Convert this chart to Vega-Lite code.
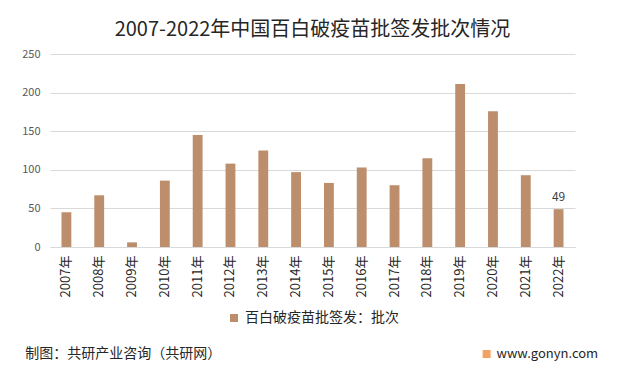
{
  "$schema": "https://vega.github.io/schema/vega-lite/v6.json",
  "background": "white",
  "padding": {"top": 20, "left": 21, "right": 10, "bottom": 5},
  "config": {
    "font": "Noto Sans CJK SC",
    "view": {"stroke": null},
    "title": {"font": "Noto Sans CJK SC", "fontWeight": "normal"},
    "axis": {"labelFont": "Noto Sans CJK SC"},
    "legend": {"labelFont": "Noto Sans CJK SC", "layout": {"bottom": {"anchor": "middle"}}}
  },
  "datasets": {
    "vaccine": [
      {"year": "2007年", "count": 45},
      {"year": "2008年", "count": 67},
      {"year": "2009年", "count": 6},
      {"year": "2010年", "count": 86},
      {"year": "2011年", "count": 145},
      {"year": "2012年", "count": 108},
      {"year": "2013年", "count": 125},
      {"year": "2014年", "count": 97},
      {"year": "2015年", "count": 83},
      {"year": "2016年", "count": 103},
      {"year": "2017年", "count": 80},
      {"year": "2018年", "count": 115},
      {"year": "2019年", "count": 211},
      {"year": "2020年", "count": 176},
      {"year": "2021年", "count": 93},
      {"year": "2022年", "count": 49}
    ],
    "footer": [
      {"site": "www.gonyn.com", "source": "制图：共研产业咨询（共研网）"}
    ]
  },
  "vconcat": [
    {
      "title": {
        "text": "2007-2022年中国百白破疫苗批签发批次情况",
        "fontSize": 20,
        "color": "#262626",
        "frame": "group",
        "anchor": "middle",
        "offset": 8
      },
      "width": 525,
      "height": 193,
      "data": {"name": "vaccine"},
      "encoding": {
        "x": {
          "field": "year",
          "type": "nominal",
          "sort": null,
          "scale": {"paddingInner": 0.7, "paddingOuter": 0.35},
          "axis": {
            "title": null,
            "labelAngle": -90,
            "labelFontSize": 13,
            "labelColor": "#262626",
            "labelPadding": 8,
            "ticks": false,
            "domainColor": "#d9d9d9"
          }
        },
        "y": {
          "field": "count",
          "type": "quantitative",
          "scale": {"domain": [0, 250]},
          "axis": {
            "title": null,
            "values": [0, 50, 100, 150, 200, 250],
            "domain": false,
            "ticks": false,
            "gridColor": "#d9d9d9",
            "labelColor": "#595959",
            "labelFontSize": 11,
            "labelPadding": 10
          }
        }
      },
      "layer": [
        {
          "mark": {"type": "bar"},
          "encoding": {
            "color": {
              "datum": "百白破疫苗批签发：批次",
              "scale": {"range": ["#BC8E6C"]},
              "legend": {
                "title": null,
                "orient": "bottom",
                "direction": "horizontal",
                "symbolType": "square",
                "symbolSize": 64,
                "labelFontSize": 14,
                "labelColor": "#262626",
                "offset": 14
              }
            }
          }
        },
        {
          "transform": [{"filter": "datum.year == '2022年'"}],
          "mark": {"type": "text", "dy": -12, "fontSize": 12, "color": "#404040"},
          "encoding": {"text": {"field": "count", "type": "quantitative"}}
        }
      ]
    },
    {
      "width": 552,
      "height": 34,
      "data": {"name": "footer"},
      "layer": [
        {
          "mark": {"type": "text", "align": "left", "baseline": "middle", "fontSize": 14, "color": "#262626"},
          "encoding": {
            "x": {"datum": -0.045, "type": "quantitative", "scale": {"domain": [0, 1]}, "axis": null},
            "y": {"datum": 0.5, "type": "quantitative", "scale": {"domain": [0, 1]}, "axis": null},
            "text": {"field": "source", "type": "nominal"}
          }
        },
        {
          "mark": {"type": "square", "filled": true, "size": 64, "color": "#F3A262", "opacity": 1},
          "encoding": {
            "x": {"datum": 0.791, "type": "quantitative"},
            "y": {"datum": 0.5, "type": "quantitative"}
          }
        },
        {
          "mark": {"type": "text", "align": "right", "baseline": "middle", "fontSize": 13, "color": "#262626"},
          "encoding": {
            "x": {"datum": 0.993, "type": "quantitative"},
            "y": {"datum": 0.5, "type": "quantitative"},
            "text": {"field": "site", "type": "nominal"}
          }
        }
      ]
    }
  ],
  "resolve": {"legend": {"color": "independent"}},
  "spacing": 12
}
